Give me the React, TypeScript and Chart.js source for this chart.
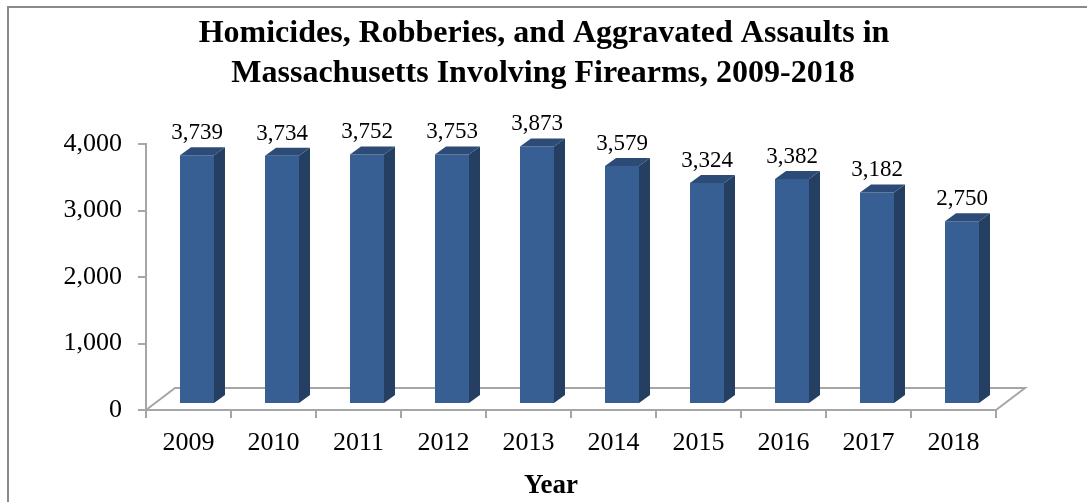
import React, { useEffect, useRef } from "react";
import { Chart, registerables } from "chart.js";

Chart.register(...registerables);

const years = ["2009", "2010", "2011", "2012", "2013", "2014", "2015", "2016", "2017", "2018"];
const incidents = [3739, 3734, 3752, 3753, 3873, 3579, 3324, 3382, 3182, 2750];
const yMin = 0;
const yMax = 4000;
const yStep = 1000;
const titleLines = [
  "Homicides, Robberies, and Aggravated Assaults in",
  "Massachusetts Involving Firearms, 2009-2018",
];
const xAxisTitle = "Year";

const SERIF = '"Liberation Serif", "Times New Roman", Times, serif';
const AXIS_GRAY = "#a6a6a6";
const FRONT = "#375f93";
const SIDE = "#243f61";
const TOP = "#2c4b77";

// 3D geometry (pixels)
const FLOOR_DX = 29;
const FLOOR_DY = 22;
const BAR_SHIFT_X = 8.5;
const BAR_SHIFT_Y = 6;
const SIDE_DX = 11;
const SIDE_DY = 8;
const LABEL_GAP = 16;

const fmt = (n: number) => n.toLocaleString("en-US");

const threeDPlugin = {
  id: "threeD",
  beforeDraw(chart: any) {
    const ctx = chart.ctx;
    ctx.save();
    // outer frame
    ctx.strokeStyle = "#8a8a8a";
    ctx.lineWidth = 2;
    ctx.beginPath();
    ctx.moveTo(8, chart.height);
    ctx.lineTo(8, 7);
    ctx.lineTo(chart.width, 7);
    ctx.stroke();
    // title
    ctx.fillStyle = "#000";
    ctx.textAlign = "center";
    ctx.textBaseline = "alphabetic";
    ctx.font = `bold 32px ${SERIF}`;
    ctx.fillText(titleLines[0], 544, 42);
    ctx.fillText(titleLines[1], 543, 82);
    // x axis title
    ctx.font = `bold 27px ${SERIF}`;
    ctx.fillText(xAxisTitle, 551, 493);
    ctx.restore();
  },
  beforeDatasetsDraw(chart: any) {
    const ctx = chart.ctx;
    const a = chart.chartArea;
    ctx.save();
    ctx.strokeStyle = AXIS_GRAY;
    ctx.lineWidth = 2;
    ctx.beginPath();
    ctx.moveTo(a.left, a.bottom);
    ctx.lineTo(a.left + FLOOR_DX, a.bottom - FLOOR_DY);
    ctx.lineTo(a.right + FLOOR_DX, a.bottom - FLOOR_DY);
    ctx.lineTo(a.right, a.bottom);
    ctx.stroke();
    ctx.restore();
    ctx.save();
    ctx.translate(BAR_SHIFT_X, -BAR_SHIFT_Y);
  },
  afterDatasetsDraw(chart: any) {
    const ctx = chart.ctx;
    ctx.restore();
    const meta = chart.getDatasetMeta(0);
    ctx.save();
    meta.data.forEach((el: any, i: number) => {
      const w = el.width;
      const left = el.x - w / 2 + BAR_SHIFT_X;
      const right = el.x + w / 2 + BAR_SHIFT_X;
      const top = el.y - BAR_SHIFT_Y;
      const bottom = el.base - BAR_SHIFT_Y;
      // side face
      ctx.fillStyle = SIDE;
      ctx.beginPath();
      ctx.moveTo(right, top);
      ctx.lineTo(right + SIDE_DX, top - SIDE_DY);
      ctx.lineTo(right + SIDE_DX, bottom - SIDE_DY);
      ctx.lineTo(right, bottom);
      ctx.closePath();
      ctx.fill();
      // top face
      ctx.fillStyle = TOP;
      ctx.beginPath();
      ctx.moveTo(left, top);
      ctx.lineTo(left + SIDE_DX, top - SIDE_DY);
      ctx.lineTo(right + SIDE_DX, top - SIDE_DY);
      ctx.lineTo(right, top);
      ctx.closePath();
      ctx.fill();
      // value label
      ctx.fillStyle = "#000";
      ctx.font = `23px ${SERIF}`;
      ctx.textAlign = "center";
      ctx.textBaseline = "alphabetic";
      ctx.fillText(fmt(incidents[i]), el.x + BAR_SHIFT_X, top - LABEL_GAP);
    });
    ctx.restore();
  },
};

export default function App() {
  const canvasRef = useRef<HTMLCanvasElement | null>(null);

  useEffect(() => {
    document.body.style.margin = "0";
    const canvas = canvasRef.current;
    if (!canvas) return;
    const chart = new Chart(canvas, {
      type: "bar",
      data: {
        labels: years,
        datasets: [
          {
            label: "Incidents",
            data: incidents,
            backgroundColor: FRONT,
            borderWidth: 0,
            barPercentage: 0.4,
            categoryPercentage: 1,
          },
        ],
      },
      options: {
        responsive: false,
        animation: false,
        devicePixelRatio: 1,
        layout: { padding: { top: 144, right: 91, left: 0, bottom: 0 } },
        plugins: {
          legend: { display: false },
          title: { display: false },
          tooltip: { enabled: false },
        },
        scales: {
          x: {
            offset: true,
            grid: {
              offset: true,
              drawOnChartArea: false,
              drawTicks: true,
              tickLength: 8,
              color: AXIS_GRAY,
              lineWidth: 2,
            },
            border: { display: true, color: AXIS_GRAY, width: 2 },
            ticks: {
              color: "#000",
              padding: 10,
              font: { family: SERIF, size: 26 },
              maxRotation: 0,
              autoSkip: false,
            },
            afterFit(scale: any) {
              scale.height = 92;
            },
          },
          y: {
            min: yMin,
            max: yMax,
            grid: {
              drawOnChartArea: false,
              drawTicks: true,
              tickLength: 8,
              color: AXIS_GRAY,
              lineWidth: 2,
            },
            border: { display: true, color: AXIS_GRAY, width: 2 },
            ticks: {
              stepSize: yStep,
              color: "#000",
              padding: 16,
              font: { family: SERIF, size: 26 },
              callback: (v: any) => fmt(Number(v)),
            },
            afterFit(scale: any) {
              scale.width = 146;
            },
          },
        },
      },
      plugins: [threeDPlugin],
    });
    return () => chart.destroy();
  }, []);

  return (
    <canvas
      ref={canvasRef}
      width={1087}
      height={502}
      style={{ display: "block", width: 1087, height: 502 }}
    />
  );
}
